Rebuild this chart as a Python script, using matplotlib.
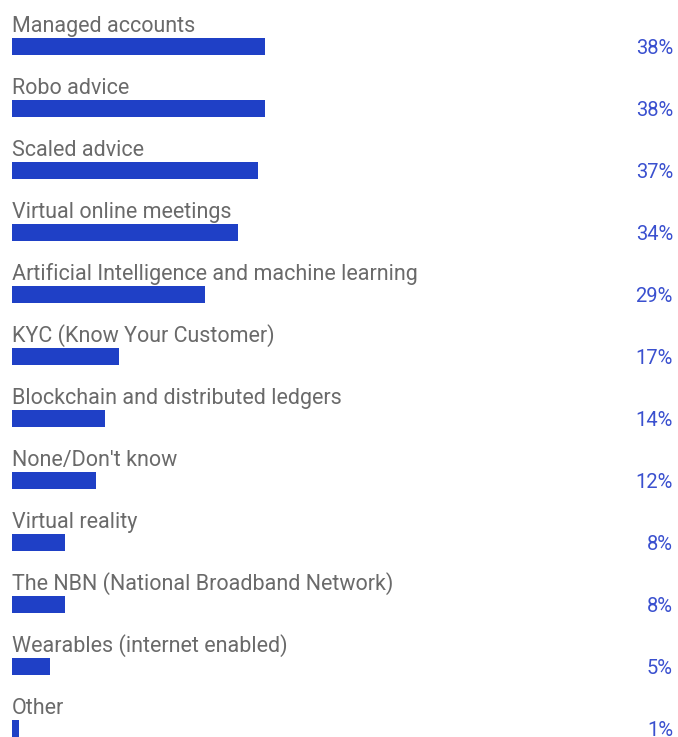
import numpy as np
import matplotlib.pyplot as plt

## Données
categories = ["Managed accounts", "Robo advice", "Scaled advice", "Virtual online meetings",
              "Artificial Intelligence and machine learning", "KYC (Know Your Customer)",
              "Blockchain and distributed ledgers", "None/Don't know", "Virtual reality",
              "The NBN (National Broadband Network)", "Wearables (internet enabled)", "Other"]
# longueurs des barres (en %)
bar_values = [38, 38, 37, 34, 29, 16, 14, 12.6, 8, 8, 5.7, 1.1]
value_labels = ["38%", "38%", "37%", "34%", "29%", "17%", "14%", "12%", "8%", "8%", "5%", "1%"]

bar_color = '#1f40c6'
pct_color = '#3a50cf'
txt_color = '#6a6a6a'

W, H = 678, 737
px_per = 6.66   # pixels par point de %
x0 = 12         # bord gauche des barres
row0, step = 46.5, 62.0

fig = plt.figure(figsize=(W/100, H/100), dpi=100)
ax = fig.add_axes([0, 0, 1, 1])
ax.set_xlim(-x0/px_per, (W - x0)/px_per)
ax.set_ylim((H - row0)/step, -row0/step)
ax.set_axis_off()

y = np.arange(len(categories))
ax.barh(y, bar_values, height=17/step, color=bar_color, left=0)

for i in range(len(categories)):
    ax.text(0, i - 14.5/step, categories[i], ha='left', va='baseline',
            fontsize=15.5, color=txt_color, family='Roboto')
    ax.text((673 - x0)/px_per, i + 7.5/step, value_labels[i], ha='right', va='baseline',
            fontsize=14.5, color=pct_color, family='Roboto')

fig.savefig('out.png', dpi=100)
